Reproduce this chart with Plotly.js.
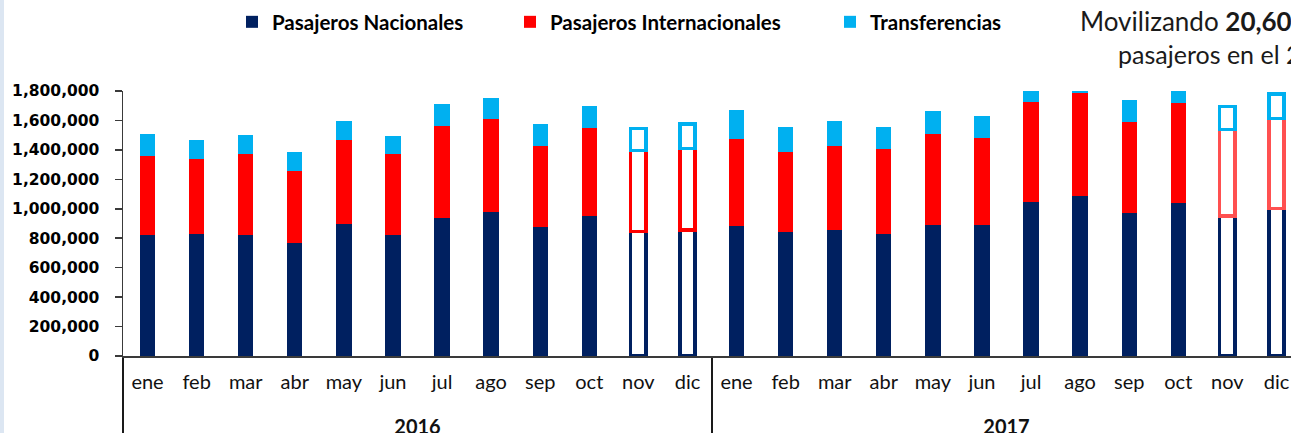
<!DOCTYPE html>
<html>
<head>
<meta charset="utf-8">
<script src="https://cdn.plot.ly/plotly-3.0.1.min.js"></script>
<style>
  html, body { margin: 0; padding: 0; overflow: hidden; background: #ffffff; }
  #wrap { position: relative; width: 1291px; height: 433px; overflow: hidden; }
  #chart { position: absolute; left: 0; top: 0; width: 1310px; height: 460px; }
  #edge { position: absolute; left: 0; top: 0; width: 4px; height: 433px; background: #dce6f2; z-index: 5; }
</style>
</head>
<body>
<div id="wrap"><div id="chart"></div><div id="edge"></div></div>
<script>
// ---- data ----
const years = ['2016', '2017'];
const months = ['ene','feb','mar','abr','may','jun','jul','ago','sep','oct','nov','dic'];
const projectedMonths = ['nov', 'dic'];

const nacionales2016 = [824000, 826000, 820000, 765000, 899000, 824000, 940000, 980000, 874000, 953000, 844000, 856000];
const nacionales2017 = [885000, 845000, 858000, 831000, 892000, 890000, 1048000, 1087000, 974000, 1041000, 951000, 1001000];

const internacionales2016 = [537000, 514000, 552000, 494000, 570000, 550000, 624000, 632000, 555000, 598000, 551000, 554000];
const internacionales2017 = [591000, 543000, 571000, 575000, 618000, 591000, 679000, 702000, 613000, 680000, 589000, 613000];

const transferencias2016 = [147000, 129000, 129000, 127000, 127000, 120000, 148000, 138000, 149000, 147000, 149000, 166000];
const transferencias2017 = [193000, 167000, 167000, 149000, 154000, 147000, 150000, 150000, 154000, 150000, 154000, 166000];

const yTicks = [0, 200000, 400000, 600000, 800000, 1000000, 1200000, 1400000, 1600000, 1800000];

const legendNames = ['Pasajeros Nacionales', 'Pasajeros Internacionales', 'Transferencias'];
const titleLine1 = 'Movilizando <b>20,60</b>';
const titleLine2 = 'pasajeros en el 2017';

// ---- build ----
const xOuter = [], xInner = [], isProj = [], yearOf = [];
years.forEach(y => months.forEach(m => {
  xOuter.push('<br><b>' + y + '</b>');
  xInner.push(m);
  isProj.push(projectedMonths.includes(m));
  yearOf.push(y);
}));
const x = [xOuter, xInner];

const NAVY = '#002060', RED = '#ff0000', RED2 = '#ff5050', CYAN = '#00b0f0';

function series(name, values, color, projLineColorFn, legendId) {
  return {
    type: 'bar',
    name: name,
    x: x,
    y: values,
    legend: legendId,
    marker: {
      color: isProj.map(p => p ? '#ffffff' : color),
      line: {
        color: isProj.map((p, i) => p ? projLineColorFn(yearOf[i]) : color),
        width: isProj.map(p => p ? 3.5 : 0)
      }
    },
    hoverinfo: 'y+name'
  };
}

const traces = [
  series(legendNames[0], nacionales2016.concat(nacionales2017), NAVY, () => NAVY, 'legend'),
  series(legendNames[1], internacionales2016.concat(internacionales2017), RED, y => (y === '2017' ? RED2 : RED), 'legend2'),
  series(legendNames[2], transferencias2016.concat(transferencias2017), CYAN, () => CYAN, 'legend3')
];

const W = 1310, H = 460;
const ML = 123, MR = 9, MT = 91, MB = 104;
const PW = W - ML - MR, PH = H - MT - MB;
const px2x = p => (p - ML) / PW;
const py2y = p => (H - MB - p) / PH;

const legendFont = { family: 'Lato, "Open Sans", sans-serif', size: 20.5, color: '#000000', weight: 'bold' };
function legendAt(xpx) {
  return {
    orientation: 'h', xref: 'container', yref: 'container',
    x: xpx / W, y: 1 - 22 / H, xanchor: 'left', yanchor: 'middle',
    bgcolor: 'rgba(0,0,0,0)', borderwidth: 0,
    font: legendFont
  };
}

const layout = {
  width: W, height: H,
  margin: { l: ML, r: MR, t: MT, b: MB, pad: 0 },
  paper_bgcolor: '#ffffff', plot_bgcolor: '#ffffff',
  barmode: 'stack',
  bargap: 0.688,
  showlegend: true,
  legend: legendAt(232),
  legend2: legendAt(510),
  legend3: legendAt(830),
  font: { family: 'Lato, sans-serif', color: '#000000' },
  xaxis: {
    type: 'multicategory',
    showline: true, linecolor: '#3a3a3a', linewidth: 1.5,
    showgrid: false, zeroline: false,
    ticks: '',
    ticklabelstandoff: 7,
    showdividers: true, dividercolor: '#1a1a1a', dividerwidth: 1.5,
    tickfont: { family: 'Lato, sans-serif', size: 20, color: '#111111' },
    fixedrange: true
  },
  yaxis: {
    range: [0, 1800000],
    tickvals: yTicks,
    tickformat: ',d',
    showline: true, linecolor: '#3a3a3a', linewidth: 1.5,
    ticks: 'outside', ticklen: 7, tickwidth: 1.5, tickcolor: '#3a3a3a',
    ticklabelstandoff: 12,
    showgrid: false, zeroline: false,
    tickfont: { family: '"DejaVu Sans", sans-serif', size: 15.5, color: '#000000', weight: 'bold' },
    fixedrange: true
  },
  annotations: [
    { xref: 'paper', yref: 'paper', x: px2x(1078), y: py2y(21), xanchor: 'left', yanchor: 'middle',
      text: titleLine1, showarrow: false, font: { family: 'Lato, sans-serif', size: 26, color: '#1a1a1a' } },
    { xref: 'paper', yref: 'paper', x: px2x(1116), y: py2y(54), xanchor: 'left', yanchor: 'middle',
      text: titleLine2, showarrow: false, font: { family: 'Lato, sans-serif', size: 25, color: '#1a1a1a' } }
  ]
};

Plotly.newPlot('chart', traces, layout, { displayModeBar: false, staticPlot: true });
</script>
</body>
</html>
